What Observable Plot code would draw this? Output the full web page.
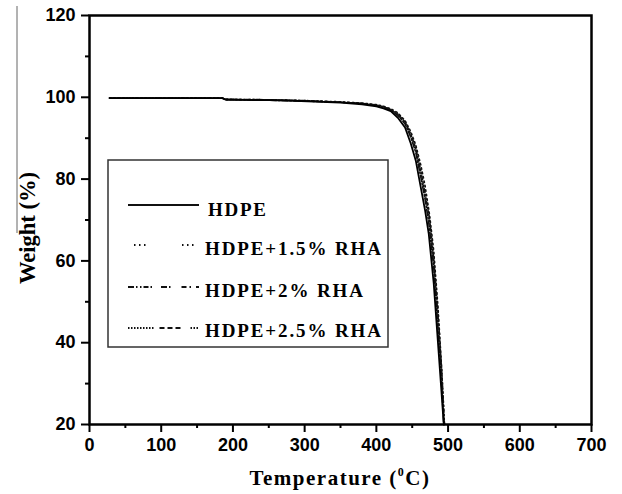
<!DOCTYPE html>
<html>
<head>
<meta charset="utf-8">
<script src="https://cdn.jsdelivr.net/npm/d3@7"></script>
<script src="https://cdn.jsdelivr.net/npm/@observablehq/plot@0.6"></script>
<style>
  html, body { margin: 0; padding: 0; background: #fff; }
  #chart { width: 622px; height: 494px; }
</style>
</head>
<body>
<div id="chart"></div>
<script>
// ---- data ----
const seriesNames = ["HDPE", "HDPE+1.5% RHA", "HDPE+2% RHA", "HDPE+2.5% RHA"];

const tempHDPE = [28, 185, 190, 250, 295, 350, 380, 400, 410, 420, 430, 440, 448, 455, 462, 468, 473, 480, 485, 490, 494];
const wHDPE    = [99.8, 99.8, 99.4, 99.3, 99.1, 98.7, 98.3, 97.8, 97.3, 96.6, 95.0, 92.6, 88.7, 84.5, 77.9, 72.3, 66.7, 54.5, 42.2, 30, 20];

const temp15 = [28, 185, 190, 250, 300, 350, 380, 400, 410, 420, 430, 440, 448, 455, 462, 468, 474, 480, 486, 491, 495];
const w15    = [99.8, 99.8, 99.5, 99.4, 99.2, 98.9, 98.6, 98.2, 97.8, 97.2, 96.2, 94.3, 91.6, 88.3, 83.4, 78.3, 71.5, 62.5, 48.5, 34, 20];

const temp20 = [28, 185, 190, 250, 295, 350, 380, 400, 410, 420, 430, 440, 448, 455, 462, 468, 473, 480, 485, 490, 494];
const w20    = [99.8, 99.8, 99.5, 99.3, 99.1, 98.8, 98.5, 98.0, 97.6, 96.9, 95.6, 93.5, 90.3, 86.5, 80.5, 75.0, 69.5, 58.5, 46, 33, 20];

const temp25 = [28, 185, 190, 250, 300, 350, 380, 400, 410, 420, 430, 440, 448, 455, 462, 468, 474, 480, 486, 491, 495];
const w25    = [99.8, 99.8, 99.5, 99.4, 99.2, 98.8, 98.5, 98.1, 97.7, 97.0, 95.9, 94.0, 91.0, 87.5, 82.0, 76.5, 70.5, 60.5, 47, 33.5, 20];

const xTicks = [0, 100, 200, 300, 400, 500, 600, 700];
const xMinorTicks = [50, 150, 250, 350, 450, 550, 650];
const yTicks = [20, 40, 60, 80, 100, 120];
const yMinorTicks = [30, 50, 70, 90, 110];

const xTitle = "Temperature (";
const xTitleSup = "0";
const xTitleEnd = "C)";
const yTitle = "Weight (%)";

// ---- build rows ----
const toRows = (name, ts, ws) => ts.map((t, i) => ({series: name, t, w: ws[i]}));
const rowsHDPE = toRows(seriesNames[0], tempHDPE, wHDPE);
const rows15 = toRows(seriesNames[1], temp15, w15);
const rows20 = toRows(seriesNames[2], temp20, w20);
const rows25 = toRows(seriesNames[3], temp25, w25);

const dashes = {
  "HDPE": null,
  "HDPE+1.5% RHA": "1.5,3",
  "HDPE+2% RHA": "6,2,1.5,2",
  "HDPE+2.5% RHA": "1.5,2,1.5,2,4,2"
};

const chart = Plot.plot({
  width: 622,
  height: 494,
  marginLeft: 89,
  marginRight: 31,
  marginTop: 15,
  marginBottom: 70,
  x: {domain: [0, 700]},
  y: {domain: [20, 120]},
  style: {
    fontFamily: "'Liberation Sans', Arial, sans-serif",
    fontSize: "18px",
    fontWeight: "bold",
    color: "#000",
    background: "#fff"
  },
  marks: [
    Plot.axisX({ticks: xTicks, tickSize: 8, tickPadding: 6, strokeWidth: 2, label: null}),
    Plot.axisX({ticks: xMinorTicks, tickSize: 4, tickFormat: () => "", strokeWidth: 2, label: null}),
    Plot.axisY({ticks: yTicks, tickSize: 8, tickPadding: 6, strokeWidth: 2, label: null}),
    Plot.axisY({ticks: yMinorTicks, tickSize: 4, tickFormat: () => "", strokeWidth: 2, label: null}),
    Plot.line(rows15, {x: "t", y: "w", stroke: "#111", strokeWidth: 1.6, strokeDasharray: dashes["HDPE+1.5% RHA"]}),
    Plot.line(rows20, {x: "t", y: "w", stroke: "#111", strokeWidth: 1.6, strokeDasharray: dashes["HDPE+2% RHA"]}),
    Plot.line(rows25, {x: "t", y: "w", stroke: "#111", strokeWidth: 1.6, strokeDasharray: dashes["HDPE+2.5% RHA"]}),
    Plot.line(rowsHDPE, {x: "t", y: "w", stroke: "#000", strokeWidth: 1.8}),
    Plot.frame({stroke: "#000", strokeWidth: 2.5})
  ]
});

document.getElementById("chart").appendChild(chart);

// ---- decorations: axis titles, legend ----
const svg = d3.select(chart);
const serif = "'Liberation Serif', 'Times New Roman', serif";

// thin scan-edge line at the far left
svg.append("line").attr("x1", 17).attr("x2", 17).attr("y1", 6).attr("y2", 233)
  .attr("stroke", "#666").attr("stroke-width", 1);

// x title
const xt = svg.append("text")
  .attr("x", 340).attr("y", 485)
  .attr("text-anchor", "middle")
  .attr("font-family", serif).attr("font-weight", "bold").attr("font-size", 21)
  .attr("letter-spacing", 1.5)
  .attr("fill", "#000");
xt.append("tspan").text(xTitle);
xt.append("tspan").attr("font-size", 12).attr("dy", -9).text(xTitleSup);
xt.append("tspan").attr("dy", 9).text(xTitleEnd);

// y title
svg.append("text")
  .attr("transform", "translate(35,228) rotate(-90)")
  .attr("text-anchor", "middle")
  .attr("font-family", serif).attr("font-weight", "bold").attr("font-size", 23)
  .attr("textLength", 112).attr("lengthAdjust", "spacingAndGlyphs")
  .attr("fill", "#000")
  .text(yTitle);

// legend
const lg = svg.append("g");
lg.append("rect").attr("x", 108).attr("y", 160).attr("width", 280).attr("height", 187)
  .attr("fill", "#fff").attr("stroke", "#333").attr("stroke-width", 1.5);

const legendDash = {
  "HDPE": null,
  "HDPE+1.5% RHA": "1.5,3.5,1.5,3.5,1.5,36.5",
  "HDPE+2% RHA": "6,2,1.5,2.5,1.5,2,5,2,1.5,9,6,2,1.5,11,5,3,1.5,5",
  "HDPE+2.5% RHA": "1.5,1.5,1.5,1.5,1.5,1.5,1.5,1.5,1.5,1.5,1.5,1.5,1.5,1.5,1.5,1.5,1.5,6,5,3,5,3,5,10"
};
const legendRows = [
  {name: seriesNames[0], base: 216, ly: 205, x0: 128, tx: 208},
  {name: seriesNames[1], base: 255, ly: 245, x0: 134, tx: 205},
  {name: seriesNames[2], base: 297, ly: 287, x0: 128, tx: 205},
  {name: seriesNames[3], base: 337, ly: 328, x0: 128, tx: 205}
];
const textWidths = {"HDPE": 58, "HDPE+1.5% RHA": 176, "HDPE+2% RHA": 158, "HDPE+2.5% RHA": 176};
legendRows.forEach(r => {
  const ln = lg.append("line").attr("x1", r.x0).attr("x2", 199).attr("y1", r.ly).attr("y2", r.ly)
    .attr("stroke", "#111").attr("stroke-width", r.name === "HDPE" ? 2 : 1.8);
  if (legendDash[r.name]) ln.attr("stroke-dasharray", legendDash[r.name]);
  lg.append("text").attr("x", r.tx).attr("y", r.base)
    .attr("text-anchor", "start")
    .attr("font-family", serif).attr("font-weight", "bold").attr("font-size", 19)
    .attr("textLength", textWidths[r.name]).attr("lengthAdjust", "spacing")
    .attr("fill", "#000")
    .text(r.name);
});
</script>
</body>
</html>
